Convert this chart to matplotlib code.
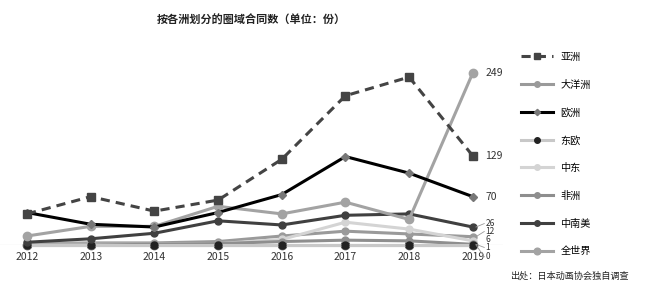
import matplotlib
matplotlib.use('Agg')
import matplotlib.pyplot as plt

plt.rcParams['font.family'] = ['Noto Sans CJK SC', 'DejaVu Sans']

years = [2012, 2013, 2014, 2015, 2016, 2017, 2018, 2019]
asia = [45, 70, 49, 65, 124, 216, 243, 129]
oceania = [2, 3, 3, 5, 13, 20, 16, 12]
europe = [47, 30, 26, 47, 73, 128, 104, 70]
east_europe = [0, 0, 0, 0, 0, 0, 0, 0]
middle_east = [1, 1, 1, 2, 8, 33, 23, 6]
africa = [0, 0, 1, 2, 5, 7, 6, 1]
latin_america = [4, 9, 17, 35, 29, 43, 45, 26]
world = [13, 27, 27, 56, 45, 62, 37, 249]

# end labels: text, y position for the label, value it belongs to
end_labels = ['249', '129', '70', '26', '12', '6', '1', '0']
end_label_y = [249, 129, 70, 31, 19.5, 8, -3.5, -17]
end_label_src = [249, 129, 70, 26, 12, 6, 1, 0]

fig = plt.figure(figsize=(6.47, 2.99), dpi=100)
ax = fig.add_axes([0.0, 0.1806, 0.777, 0.6194])

lw = 2.2
ax.plot(years, oceania, color='#9a9a9a', lw=lw, marker='o', ms=5, label='大洋洲', clip_on=False)
ax.plot(years, middle_east, color='#d4d4d4', lw=lw, marker='o', ms=5, label='中东', clip_on=False)
ax.plot(years, africa, color='#8e8e8e', lw=lw, marker='o', ms=5, label='非洲', clip_on=False)
ax.plot(years, east_europe, color='#c8c8c8', lw=lw, marker='o', ms=5, mfc='#222222', mec='#222222', label='东欧', clip_on=False)
ax.plot(years, latin_america, color='#404040', lw=lw, marker='o', ms=5, label='中南美', clip_on=False)
ax.plot(years, world, color='#a3a3a3', lw=lw, marker='o', ms=6, label='全世界', clip_on=False)
ax.plot(years, europe, color='#000000', lw=lw, marker='D', ms=4, mfc='#777777', mec='#777777', label='欧洲', clip_on=False)
ax.plot(years, asia, color='#444444', lw=lw, ls=(0, (3, 2)), marker='s', ms=6, label='亚洲', clip_on=False)
# darker band of zero values along the bottom
ax.plot(years, [0] * len(years), color='#5a5a5a', lw=lw, marker='o', ms=6, clip_on=False, zorder=1.5)

ax.set_xlim(2011.576, 2019.47)
ax.set_ylim(0, 268)
ax.axhline(0, color='#bbbbbb', lw=0.8, zorder=0)
for s in ax.spines.values():
    s.set_visible(False)
ax.set_yticks([])
ax.set_xticks(years)
ax.tick_params(axis='x', length=0, labelsize=7.5, labelcolor='#333333', pad=5)

for txt, ly, sy in zip(end_labels, end_label_y, end_label_src):
    fs = 7.5 if sy > 50 else 6.0
    ax.text(2019.2, ly, txt, fontsize=fs, color='#333333', va='center', ha='left', clip_on=False)
    if abs(ly - sy) > 2:
        ax.plot([2019.05, 2019.18], [sy, ly], color='#999999', lw=0.6, clip_on=False)

fig.text(0.388, 0.933, '按各洲划分的圈域合同数（单位：份）',
         ha='center', va='center', fontsize=8, fontweight='bold', color='#222222')

h, l = ax.get_legend_handles_labels()
order = ['亚洲', '大洋洲', '欧洲', '东欧', '中东', '非洲', '中南美', '全世界']
hd = dict(zip(l, h))
fig.legend([hd[k] for k in order], order, loc='upper left', bbox_to_anchor=(0.805, 0.826),
           frameon=False, fontsize=7.3, handlelength=3.2, labelspacing=1.75, handletextpad=0.7,
           borderpad=0, borderaxespad=0, markerscale=0.8)

fig.text(0.788, 0.077, '出处：日本动画协会独自调查', fontsize=6.6, color='#222222', va='center')

fig.savefig('out.png', dpi=100)
